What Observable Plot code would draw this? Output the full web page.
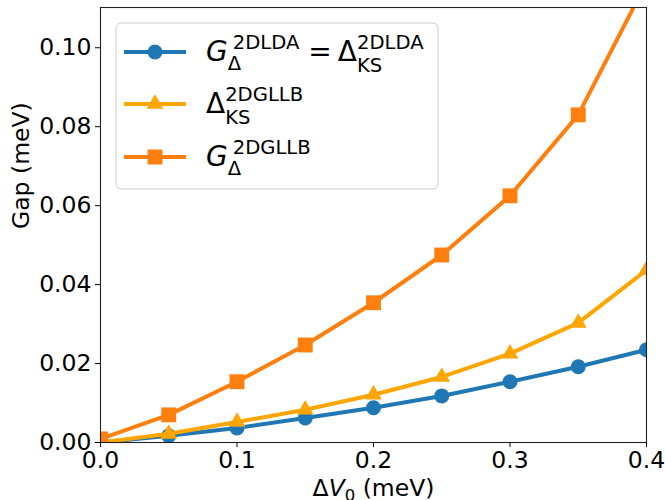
<!DOCTYPE html>
<html><head><meta charset="utf-8">
<script src="https://cdn.jsdelivr.net/npm/d3@7"></script>
<script src="https://cdn.jsdelivr.net/npm/@observablehq/plot@0.6"></script>
<style>body{margin:0;background:#fff;} svg{display:block}</style>
</head><body><div id="chart"></div>
<script>
// ---- data ----
const dV0 = [0, 0.05, 0.1, 0.15, 0.2, 0.25, 0.3, 0.35, 0.4];
const gapLDA  = [0, 0.0017, 0.0037, 0.0062, 0.0088, 0.0118, 0.0154, 0.0192, 0.0235];
const ksGLLB  = [0, 0.0022, 0.0052, 0.0083, 0.0121, 0.0166, 0.0225, 0.0303, 0.0437];
const gapGLLB = [0.0009, 0.0070, 0.0154, 0.0247, 0.0354, 0.0475, 0.0625, 0.0830, 0.1166];
const xTicks = [0, 0.1, 0.2, 0.3, 0.4];
const yTicks = [0, 0.02, 0.04, 0.06, 0.08, 0.10];
const xLabel = "ΔV₀ (meV)";
const yLabel = "Gap (meV)";
const seriesColors = ["#1f77b4", "#ffa500", "#ff7f0e"];
const seriesSymbols = ["circle", "triangle", "square"];
const seriesR = [7.5, 6.2, 8.4];
const seriesValues = [gapLDA, ksGLLB, gapGLLB];

const FS = 23.5;
const marks = [];
seriesValues.forEach((vals, i) => {
  const data = dV0.map((x, j) => ({x, y: vals[j]}));
  marks.push(Plot.line(data, {x: "x", y: "y", stroke: seriesColors[i], strokeWidth: 4, clip: true}));
  marks.push(Plot.dot(data, {x: "x", y: "y", fill: seriesColors[i], stroke: "none", r: seriesR[i], symbol: seriesSymbols[i], clip: true}));
});

const svg = Plot.plot({
  width: 665, height: 500,
  marginLeft: 100, marginRight: 19, marginTop: 7, marginBottom: 58,
  style: {fontFamily: "DejaVu Sans", fontSize: FS + "px", color: "black", background: "white"},
  x: {domain: [0, 0.4]},
  y: {domain: [0, 0.1102]},
  marks: [
    ...marks,
    Plot.frame({stroke: "#222", strokeWidth: 1.1}),
    Plot.axisX({ticks: xTicks, tickFormat: ".1f", tickSize: 5, tickPadding: 4, label: null, fontSize: FS}),
    Plot.axisY({ticks: yTicks, tickFormat: ".2f", tickSize: 5, tickPadding: 4, label: null, fontSize: FS}),
    Plot.text([yLabel], {text: d => d, frameAnchor: "left", rotate: -90, dx: -79, dy: 4, fontSize: FS}),
    Plot.text([xLabel], {text: d => d, frameAnchor: "bottom", dy: 53, fontSize: FS})
  ]
});
document.getElementById("chart").append(svg);
const root = d3.select(svg);

// italic V with subscript 0 in the x label
root.selectAll("text").filter(function() { return this.textContent === xLabel; })
  .each(function() {
    const t = d3.select(this);
    t.text(null);
    t.append("tspan").text("Δ");
    t.append("tspan").attr("font-style", "italic").text("V");
    t.append("tspan").attr("font-size", 16.5).attr("dy", 5).text("0");
    t.append("tspan").attr("dy", -5).text(" (meV)");
  });

// ---- legend ----
const M = 28, S = 19.6;
const lg = root.append("g").attr("text-anchor", "start").attr("fill", "black");
lg.append("rect").attr("x", 116).attr("y", 23).attr("width", 322).attr("height", 166)
  .attr("rx", 5).attr("fill", "white").attr("fill-opacity", 0.8).attr("stroke", "#cccccc");

function put(x, y, txt, size, italic) {
  const el = lg.append("text").attr("x", x).attr("y", y).attr("font-size", size).text(txt);
  if (italic) el.attr("font-style", "italic");
  return el.node().getComputedTextLength();
}
function math(x, y, parts) {
  let cx = x;
  for (const p of parts) {
    if (p.gap) { cx += p.gap; continue; }
    if (p.t) { cx += put(cx, y, p.t, M, p.it); continue; }
    const ws = p.sub ? put(cx + (p.subDx || 0), y + p.subDy, p.sub, S) + (p.subDx || 0) : 0;
    const wp = p.sup ? put(cx + (p.supDx || 0), y + p.supDy, p.sup, S) + (p.supDx || 0) : 0;
    cx += Math.max(ws, wp);
  }
}
const legendRows = [
  {y: 52, parts: [{t: "G", it: true}, {sub: "Δ", subDx: 0, subDy: 9, sup: "2DLDA", supDx: 5, supDy: -12},
                  {gap: 9}, {t: "="}, {gap: 6}, {t: "Δ"}, {sub: "KS", subDy: 11, sup: "2DLDA", supDy: -12}]},
  {y: 104, parts: [{t: "Δ"}, {sub: "KS", subDy: 11, sup: "2DGLLB", supDy: -12}]},
  {y: 157, parts: [{t: "G", it: true}, {sub: "Δ", subDx: 0, subDy: 9, sup: "2DGLLB", supDx: 5, supDy: -12}]}
];
legendRows.forEach((row, i) => {
  lg.append("line").attr("x1", 124).attr("x2", 186).attr("y1", row.y).attr("y2", row.y)
    .attr("stroke", seriesColors[i]).attr("stroke-width", 4);
  const sym = {circle: d3.symbolCircle, triangle: d3.symbolTriangle, square: d3.symbolSquare}[seriesSymbols[i]];
  lg.append("path").attr("transform", `translate(155,${row.y})`)
    .attr("d", d3.symbol(sym, Math.PI * seriesR[i] * seriesR[i])()).attr("fill", seriesColors[i]);
  math(206, row.y + 9, row.parts);
});
</script>
</body></html>
